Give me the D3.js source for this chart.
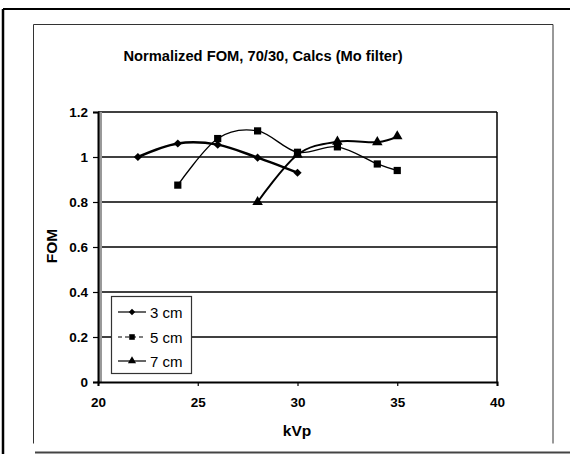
<!DOCTYPE html>
<html>
<head>
<meta charset="utf-8">
<script src="https://cdn.jsdelivr.net/npm/d3@7/dist/d3.min.js"></script>
<style>
html,body{margin:0;padding:0;background:#fff;}
svg{display:block;font-family:"Liberation Sans",Arial,sans-serif;}
</style>
</head>
<body>
<svg id="chart" width="570" height="454"></svg>
<script>
const title = "Normalized FOM, 70/30, Calcs (Mo filter)";
const xTicks = [20, 25, 30, 35, 40];
const yTicks = [0, 0.2, 0.4, 0.6, 0.8, 1, 1.2];
const yTickLabels = ["0", "0.2", "0.4", "0.6", "0.8", "1", "1.2"];
const seriesNames = ["3 cm", "5 cm", "7 cm"];
const kvp3 = [22, 24, 26, 28, 30];
const fom3 = [1.0, 1.06, 1.055, 0.997, 0.93];
const kvp5 = [24, 26, 28, 30, 32, 34, 35];
const fom5 = [0.875, 1.082, 1.116, 1.021, 1.045, 0.969, 0.94];
const kvp7 = [28, 30, 32, 34, 35];
const fom7 = [0.80, 1.01, 1.068, 1.066, 1.092];

const svg = d3.select("#chart");
const L = 98, R = 497, T = 112, B = 382;
const x = d3.scaleLinear().domain([20, 40]).range([L, R]);
const y = d3.scaleLinear().domain([0, 1.2]).range([B, T]);

// frames
svg.append("line").attr("x1",3).attr("y1",9).attr("x2",570).attr("y2",9).attr("stroke","#000").attr("stroke-width",2);
svg.append("line").attr("x1",3).attr("y1",9).attr("x2",3).attr("y2",454).attr("stroke","#000").attr("stroke-width",2.5);
svg.append("line").attr("x1",35).attr("y1",452.5).attr("x2",570).attr("y2",452.5).attr("stroke","#444").attr("stroke-width",2);
svg.append("path").attr("d","M33.5,443.5 V24.5 H553 V443.5")
  .attr("fill","none").attr("stroke","#333").attr("stroke-width",1);

// title
svg.append("text").attr("x",263).attr("y",61).attr("text-anchor","middle")
  .attr("font-size",14.7).attr("font-weight","bold").text(title);

// gridlines
svg.append("g").selectAll("line").data(yTicks.slice(1)).join("line")
  .attr("x1",L).attr("x2",R).attr("y1",d=>y(d)).attr("y2",d=>y(d))
  .attr("stroke","#000").attr("stroke-width",1.5);

// plot border right
svg.append("line").attr("x1",R).attr("x2",R).attr("y1",T).attr("y2",B).attr("stroke","#000").attr("stroke-width",1.5);
// left shaded band
svg.append("rect").attr("x",L).attr("y",T).attr("width",4).attr("height",B-T).attr("fill","#999");

// axes
const yAxis = d3.axisLeft(y).tickValues(yTicks).tickFormat((d,i)=>yTickLabels[i]).tickSize(5).tickPadding(5);
const gy = svg.append("g").attr("transform",`translate(${L},0)`).call(yAxis);
const xAxis = d3.axisBottom(x).tickValues(xTicks).tickSize(4).tickPadding(11);
const gx = svg.append("g").attr("transform",`translate(0,${B})`).call(xAxis);
[gx, gy].forEach(g=>{
  g.select(".domain").attr("stroke","#000").attr("stroke-width",2);
  g.selectAll(".tick line").attr("stroke","#000").attr("stroke-width",1.2);
  g.selectAll(".tick text").attr("font-size",13.5).attr("font-weight","bold").attr("fill","#000")
    .attr("font-family","Liberation Sans, Arial, sans-serif");
});

// axis titles
svg.append("text").attr("x",297).attr("y",436).attr("text-anchor","middle")
  .attr("font-size",15.5).attr("font-weight","bold").text("kVp");
svg.append("text").attr("transform","translate(57,246) rotate(-90)").attr("text-anchor","middle")
  .attr("font-size",15.5).attr("font-weight","bold").text("FOM");

// series
const series = [
  {name: seriesNames[0], xs: kvp3, ys: fom3, w: 2.5, shape: d3.symbolSquare, size: 34, rot: 45},
  {name: seriesNames[1], xs: kvp5, ys: fom5, w: 1.3, shape: d3.symbolSquare, size: 52, rot: 0},
  {name: seriesNames[2], xs: kvp7, ys: fom7, w: 2, shape: d3.symbolTriangle, size: 48, rot: 0}
];
const line = d3.line().x(d=>x(d[0])).y(d=>y(d[1])).curve(d3.curveCardinal.tension(0));
series.forEach(s=>{
  const pts = s.xs.map((v,i)=>[v, s.ys[i]]);
  svg.append("path").datum(pts).attr("d",line).attr("fill","none")
    .attr("stroke","#000").attr("stroke-width",s.w);
  svg.append("g").selectAll("path").data(pts).join("path")
    .attr("transform",d=>`translate(${x(d[0])},${y(d[1])}) rotate(${s.rot})`)
    .attr("d",d3.symbol().type(s.shape).size(s.size)).attr("fill","#000");
});

// legend
const lg = svg.append("g");
lg.append("rect").attr("x",111.5).attr("y",296.5).attr("width",80).attr("height",77)
  .attr("fill","#fff").attr("stroke","#333").attr("stroke-width",1.2);
const ly = [312, 337, 361];
series.forEach((s,i)=>{
  lg.append("line").attr("x1",118).attr("x2",146).attr("y1",ly[i]).attr("y2",ly[i])
    .attr("stroke","#000").attr("stroke-width",1.2)
    .attr("stroke-dasharray", i===1 ? "4,3" : null);
  lg.append("path").attr("transform",`translate(132,${ly[i]}) rotate(${s.rot})`)
    .attr("d",d3.symbol().type(s.shape).size(s.size*0.6)).attr("fill","#000");
  lg.append("text").attr("x",150).attr("y",ly[i]+5.5).attr("font-size",15).text(s.name);
});
</script>
</body>
</html>
